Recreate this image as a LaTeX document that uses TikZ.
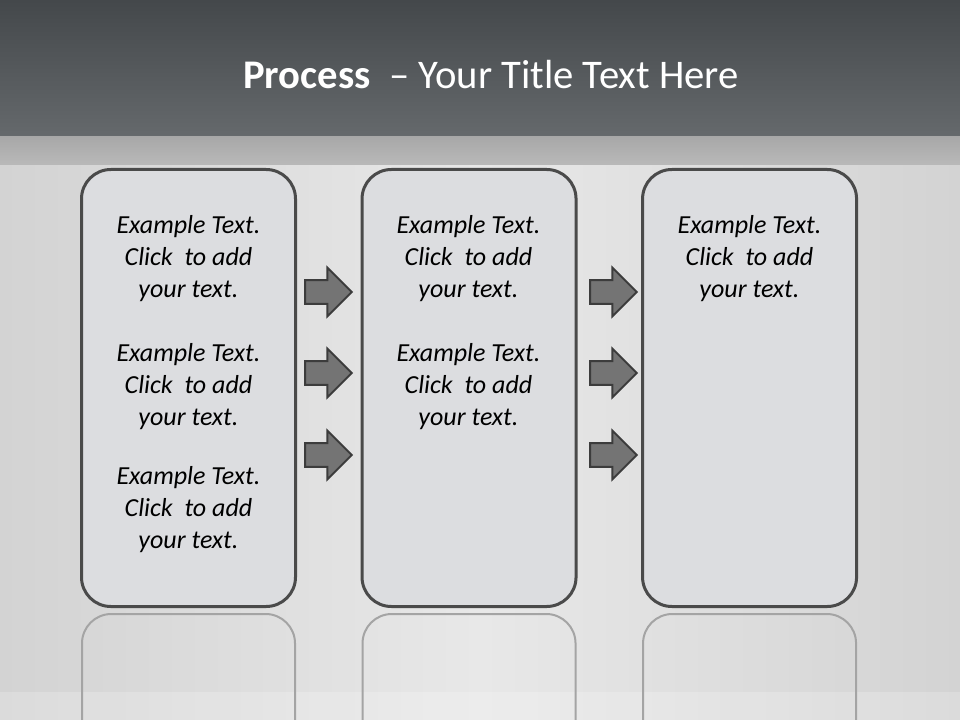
\documentclass[tikz,border=0pt]{standalone}
\usepackage{fontspec}
\setmainfont{Carlito}
\usetikzlibrary{shapes.arrows,positioning,calc}
\definecolor{barTop}{HTML}{44484B}
\definecolor{barBottom}{HTML}{65696C}
\definecolor{bandTop}{HTML}{A8A8A8}
\definecolor{bandBottom}{HTML}{B9B9B9}
\definecolor{bgSide}{HTML}{D3D3D3}
\definecolor{bgMid}{HTML}{E8E8E8}
\definecolor{panelFill}{HTML}{DCDDE0}
\definecolor{panelLine}{HTML}{4A4A4A}
\definecolor{arrowFill}{HTML}{747474}
\definecolor{arrowLine}{HTML}{3C3C3C}
\definecolor{mirrorLine}{HTML}{A4A4A4}
\begin{document}
\begin{tikzpicture}[x=0.75pt,y=-0.75pt,node distance=210.4pt,
		panel/.style={draw=panelLine,fill=panelFill,line width=2.25pt,rounded corners=22pt,
			minimum width=160.5pt,minimum height=327.75pt,inner sep=0pt},
		note/.style={align=center,text=black,font=\fontsize{19.5}{24}\selectfont\itshape},
		flow/.style={single arrow,draw=arrowLine,fill=arrowFill,line width=1.5pt,inner sep=8.2pt,
			minimum height=35pt,single arrow head extend=9.2pt,anchor=tail},
		mirror/.style={draw=mirrorLine,line width=1.5pt,rounded corners=22pt},
		title/.style={text=white,font=\fontsize{30.5}{36}\selectfont}]

		\useasboundingbox (0,0) rectangle (960,720);
		\shade[left color=bgSide,right color=bgSide,middle color=bgMid] (0,165) rectangle (960,720);
		\fill[white,opacity=0.2] (0,692) rectangle (960,720);
		\shade[top color=barTop,bottom color=barBottom] (0,0) rectangle (960,137);
		\shade[top color=bandTop,bottom color=bandBottom] (0,137) rectangle (960,165);

		\node[title] (T) at (491,75) {\textbf{Process}\ \ – Your Title Text Here};

		\node[panel] (P1) at (188.5,388) {};
		\node[panel] (P2) [right of=P1] {};
		\node[panel] (P3) [right of=P2] {};

		\foreach \p in {P1,P2,P3}
			\draw[mirror] ($(\p.south west)+(2,140)$) -- ($(\p.south west)+(2,6)$)
				-- ($(\p.south east)+(-2,6)$) -- ($(\p.south east)+(-2,140)$);

		\node[flow] (F1) at (304,292) {};
		\node[flow] (F2) at (304,373) {};
		\node[flow] (F3) at (304,455) {};
		\node[flow] (F4) at (589,292) {};
		\node[flow] (F5) at (589,373) {};
		\node[flow] (F6) at (589,455) {};

		\node[note] (N1) at (188.5,259) {Example Text.\\Click\ \ to add\\your text.};
		\node[note] (N2) at (188.5,387) {Example Text.\\Click\ \ to add\\your text.};
		\node[note] (N3) at (188.5,510) {Example Text.\\Click\ \ to add\\your text.};
		\node[note] (N4) at (468.5,259) {Example Text.\\Click\ \ to add\\your text.};
		\node[note] (N5) at (468.5,387) {Example Text.\\Click\ \ to add\\your text.};
		\node[note] (N6) at (749.5,259) {Example Text.\\Click\ \ to add\\your text.};
\end{tikzpicture}
\end{document}
